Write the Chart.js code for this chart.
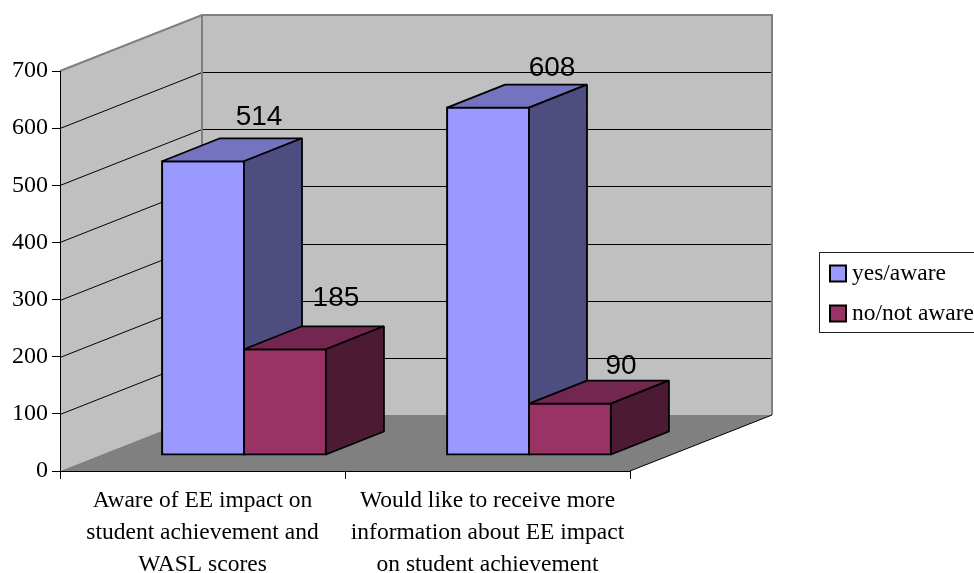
<!DOCTYPE html>
<html>
<head>
<meta charset="utf-8">
<title>EE impact awareness</title>
<script src="https://cdn.jsdelivr.net/npm/chart.js@4/dist/chart.umd.min.js"></script>
<style>
  html, body { margin: 0; padding: 0; background: #fff; overflow: hidden; }
  canvas { display: block; }
</style>
</head>
<body>
<canvas id="chart" width="974" height="573"></canvas>
<script>
// ===== DATA =====
const categories = [
  ["Aware of EE impact on", "student achievement and", "WASL scores"],
  ["Would like to receive more", "information about EE impact", "on student achievement"]
];
const yesAware = [514, 608];
const noNotAware = [185, 90];
const yTicks = [0, 100, 200, 300, 400, 500, 600, 700];

// ===== 3D SETTINGS =====
const WALL_DX = 142, WALL_DY = -56;   // front plane to back wall
const BAR_DX = 41.5, BAR_DY = -16;    // front plane to front of the bars
const DEPTH_DX = 58, DEPTH_DY = -23;  // depth of one bar
const SERIF = '"Liberation Serif", serif';
const SANS = '"Liberation Sans", sans-serif';

const shades = {
  yes: { front: "#9999FF", top: "#7373BF", side: "#4D4D80" },
  no: { front: "#993366", top: "#732650", side: "#4D1A33" }
};

// nudges for the value labels, they don't sit at a regular distance from the bars
const labelNudge = [
  [[-2, -21], [6, -16]],
  [[-7, -28], [-7, -14]]
];

function poly(ctx, pts, fill, stroke, lw) {
  ctx.beginPath();
  pts.forEach((p, i) => i ? ctx.lineTo(p[0], p[1]) : ctx.moveTo(p[0], p[1]));
  ctx.closePath();
  if (fill) { ctx.fillStyle = fill; ctx.fill(); }
  if (stroke) { ctx.strokeStyle = stroke; ctx.lineWidth = lw; ctx.lineJoin = "bevel"; ctx.stroke(); }
}

function segment(ctx, x1, y1, x2, y2, color, lw) {
  ctx.beginPath();
  ctx.moveTo(x1, y1);
  ctx.lineTo(x2, y2);
  ctx.strokeStyle = color;
  ctx.lineWidth = lw;
  ctx.stroke();
}

// ===== WALLS AND FLOOR =====
const wallsPlugin = {
  id: "walls",
  beforeDraw(chart) {
    const ctx = chart.ctx;
    const { left, right, top, bottom } = chart.chartArea;
    const backL = left + WALL_DX, backR = right + WALL_DX;
    const backT = top + WALL_DY, backB = bottom + WALL_DY;

    ctx.save();
    poly(ctx, [[left, top], [backL, backT], [backL, backB], [left, bottom]], "#C0C0C0");
    poly(ctx, [[backL, backT], [backR, backT], [backR, backB], [backL, backB]], "#C0C0C0");
    poly(ctx, [[left, bottom], [backL, backB], [backR, backB], [right, bottom]], "#808080");

    // gridlines run along the left wall and then across the back wall
    yTicks.slice(1, -1).forEach(v => {
      const y = Math.round(chart.scales.y.getPixelForValue(v)) + 0.5;
      segment(ctx, left, y, backL, y + WALL_DY, "#000", 1);
      segment(ctx, backL, y + WALL_DY, backR, y + WALL_DY, "#000", 1);
    });

    // wall outline
    ctx.beginPath();
    ctx.moveTo(left, top);
    ctx.lineTo(backL, backT);
    ctx.lineTo(backR, backT);
    ctx.lineTo(backR, backB);
    ctx.moveTo(backL, backT);
    ctx.lineTo(backL, backB);
    ctx.strokeStyle = "#808080";
    ctx.lineWidth = 2;
    ctx.stroke();

    // front right edge of the floor
    segment(ctx, right, bottom, backR, backB, "#000", 1);
    ctx.restore();
  }
};

// ===== BARS IN 3D =====
// datasets go left to right so the right hand bar covers the side of its neighbour,
// the library draws each front face, top and side are added here
const cubePlugin = {
  id: "cube",
  beforeDatasetsDraw(chart) {
    const ctx = chart.ctx;
    chart.data.datasets.forEach((ds, i) => {
      const meta = chart.getDatasetMeta(i);
      ctx.save();
      ctx.translate(BAR_DX, BAR_DY);
      meta.controller.draw();
      meta.data.forEach(bar => {
        const l = bar.x - bar.width / 2, r = bar.x + bar.width / 2;
        const t = bar.y, b = bar.base;
        const lw = 1.8;
        poly(ctx, [[l, t], [l + DEPTH_DX, t + DEPTH_DY], [r + DEPTH_DX, t + DEPTH_DY], [r, t]], ds.shade.top, "#000", lw);
        poly(ctx, [[r, t], [r + DEPTH_DX, t + DEPTH_DY], [r + DEPTH_DX, b + DEPTH_DY], [r, b]], ds.shade.side, "#000", lw);
      });
      ctx.restore();
    });

    // value labels
    ctx.save();
    ctx.font = "28px " + SANS;
    ctx.fillStyle = "#000";
    ctx.textAlign = "center";
    ctx.textBaseline = "middle";
    chart.data.datasets.forEach((ds, i) => {
      chart.getDatasetMeta(i).data.forEach((bar, j) => {
        const n = labelNudge[i][j];
        ctx.fillText(ds.data[j], bar.x + BAR_DX + DEPTH_DX + n[0], bar.y + BAR_DY + DEPTH_DY + n[1]);
      });
    });
    ctx.restore();
    return false;
  }
};

// ===== LEGEND =====
const legendPlugin = {
  id: "boxLegend",
  afterDraw(chart) {
    const ctx = chart.ctx;
    ctx.save();
    ctx.strokeStyle = "#222";
    ctx.lineWidth = 1;
    ctx.strokeRect(819.5, 252.5, 170, 80);
    ctx.font = "23.5px " + SERIF;
    ctx.textBaseline = "middle";
    chart.data.datasets.forEach((ds, i) => {
      const y = 265.5 + i * 40;
      ctx.fillStyle = ds.shade.front;
      ctx.fillRect(830, y, 16, 16);
      ctx.strokeStyle = "#000";
      ctx.lineWidth = 2;
      ctx.strokeRect(830, y, 16, 16);
      ctx.fillStyle = "#000";
      ctx.fillText(ds.label, 852, y + 8);
    });
    ctx.restore();
  }
};

// ===== CHART =====
new Chart(document.getElementById("chart"), {
  type: "bar",
  data: {
    labels: categories,
    datasets: [
      { label: "yes/aware", data: yesAware, shade: shades.yes, backgroundColor: shades.yes.front,
        borderColor: "#000", borderWidth: 2, borderSkipped: false, inflateAmount: 1 },
      { label: "no/not aware", data: noNotAware, shade: shades.no, backgroundColor: shades.no.front,
        borderColor: "#000", borderWidth: 2, borderSkipped: false, inflateAmount: 1 }
    ]
  },
  options: {
    responsive: false,
    animation: false,
    categoryPercentage: 0.575,
    barPercentage: 1,
    layout: { padding: { top: 71, right: 344, bottom: 0, left: 0 } },
    plugins: { legend: { display: false }, title: { display: false }, tooltip: { enabled: false } },
    scales: {
      x: {
        afterFit: s => { s.height = 102; },
        grid: { drawOnChartArea: false, color: "#000", tickLength: 8 },
        border: { color: "#000", width: 1 },
        ticks: {
          color: "#000", padding: 6, autoSkip: false, maxRotation: 0,
          font: { family: SERIF, size: 23.5, lineHeight: 1.36 }
        }
      },
      y: {
        min: 0,
        max: 700,
        afterFit: s => { s.width = 60; },
        afterBuildTicks: s => { s.ticks = yTicks.map(v => ({ value: v })); },
        grid: { drawOnChartArea: false, color: "#000", tickLength: 8 },
        border: { color: "#000", width: 1 },
        ticks: { color: "#000", padding: 4, font: { family: SERIF, size: 24 } }
      }
    }
  },
  plugins: [wallsPlugin, cubePlugin, legendPlugin]
});
</script>
</body>
</html>
